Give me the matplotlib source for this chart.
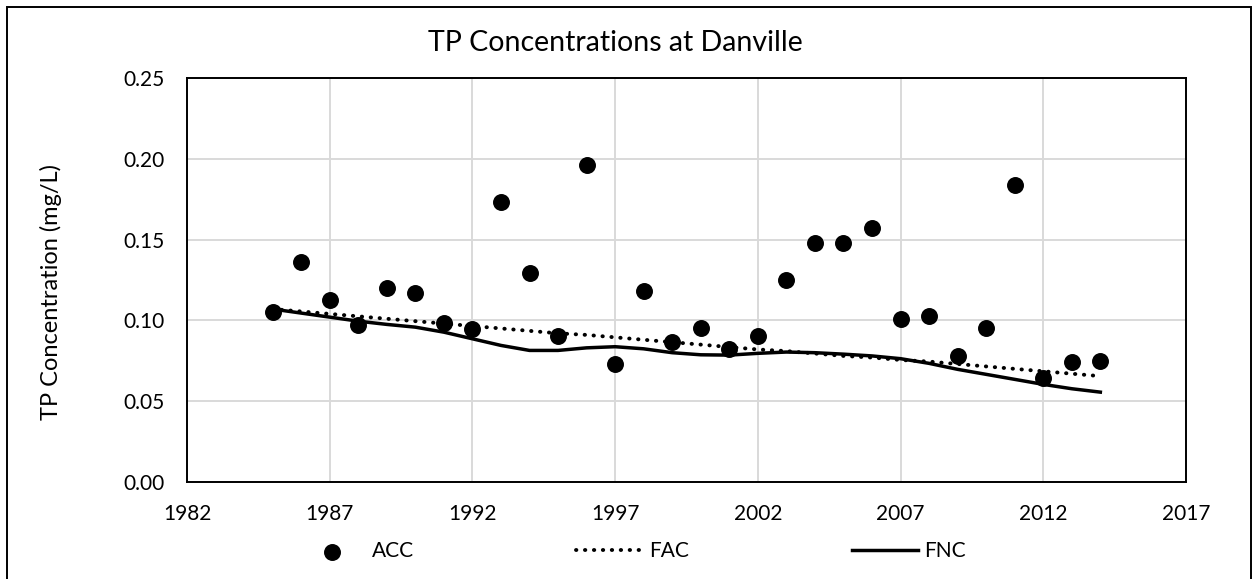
import numpy as np
import matplotlib
matplotlib.use("Agg")
from matplotlib import pyplot as plt
from matplotlib.patches import Rectangle

plt.rcParams['font.family'] = ['Lato', 'DejaVu Sans']

years = list(range(1985, 2015))
acc = [0.105, 0.136, 0.1125, 0.097, 0.120, 0.117, 0.0985, 0.0945, 0.173, 0.129,
       0.0905, 0.196, 0.073, 0.118, 0.0865, 0.095, 0.0825, 0.0905, 0.125, 0.148,
       0.148, 0.157, 0.101, 0.103, 0.078, 0.095, 0.184, 0.0645, 0.074, 0.075]
fac = [0.107, 0.1055, 0.104, 0.1025, 0.101, 0.0995, 0.098, 0.0965, 0.095, 0.0935,
       0.092, 0.091, 0.0895, 0.088, 0.0865, 0.085, 0.0835, 0.082, 0.081, 0.0795,
       0.078, 0.077, 0.0755, 0.0745, 0.073, 0.0715, 0.070, 0.0685, 0.067, 0.0655]
fnc = [0.107, 0.1045, 0.102, 0.0995, 0.0975, 0.0958, 0.0927, 0.0886, 0.0845, 0.0814,
       0.0814, 0.083, 0.0837, 0.0824, 0.080, 0.0787, 0.0785, 0.0796, 0.0804, 0.080,
       0.0791, 0.078, 0.0763, 0.0734, 0.0697, 0.0666, 0.0635, 0.0604, 0.0577, 0.0556]
xticks = [1982, 1987, 1992, 1997, 2002, 2007, 2012, 2017]
yticks = [0.00, 0.05, 0.10, 0.15, 0.20, 0.25]

fig = plt.figure(figsize=(12.55, 5.79), dpi=100)
ax = fig.add_axes([0.149, 0.1675, 0.796, 0.698])

ax.plot(years, fac, color='black', linewidth=2.8, linestyle=(0, (0.1, 2.2)),
        dash_capstyle='round', label='FAC', zorder=3)
ax.plot(years, fnc, color='black', linewidth=2.5, label='FNC', zorder=3)
ax.scatter(years, acc, s=125, color='black', label='ACC', zorder=4)

ax.set_xlim(1982, 2017)
ax.set_ylim(0, 0.25)
ax.set_xticks(xticks)
ax.set_yticks(yticks)
ax.set_yticklabels(['%.2f' % v for v in yticks])
ax.tick_params(length=0, labelsize=15, labelcolor='black')
ax.tick_params(axis='y', pad=16)
ax.tick_params(axis='x', pad=16)
ax.grid(True, color='#d9d9d9', linewidth=1.4)
ax.set_axisbelow(True)
for s in ax.spines.values():
    s.set_linewidth(1.4)
    s.set_color('black')

ax.set_ylabel('TP Concentration (mg/L)', fontsize=17)
ax.yaxis.set_label_coords(-0.125, 0.47)
fig.text(0.49, 0.925, 'TP Concentrations at Danville', fontsize=20.5,
         ha='center', va='center')

h, l = ax.get_legend_handles_labels()
order = [2, 0, 1]
fig.legend([h[i] for i in order], [l[i] for i in order], ncol=3,
           loc='center', bbox_to_anchor=(0.504, 0.048), frameon=False,
           fontsize=15, handlelength=3.2, handletextpad=0.3,
           columnspacing=7.8)

fig.patches.append(Rectangle((0.0056, -0.01), 0.991, 0.998, transform=fig.transFigure,
                             fill=False, edgecolor='black', linewidth=1.4))

fig.savefig('out.png', dpi=100)
